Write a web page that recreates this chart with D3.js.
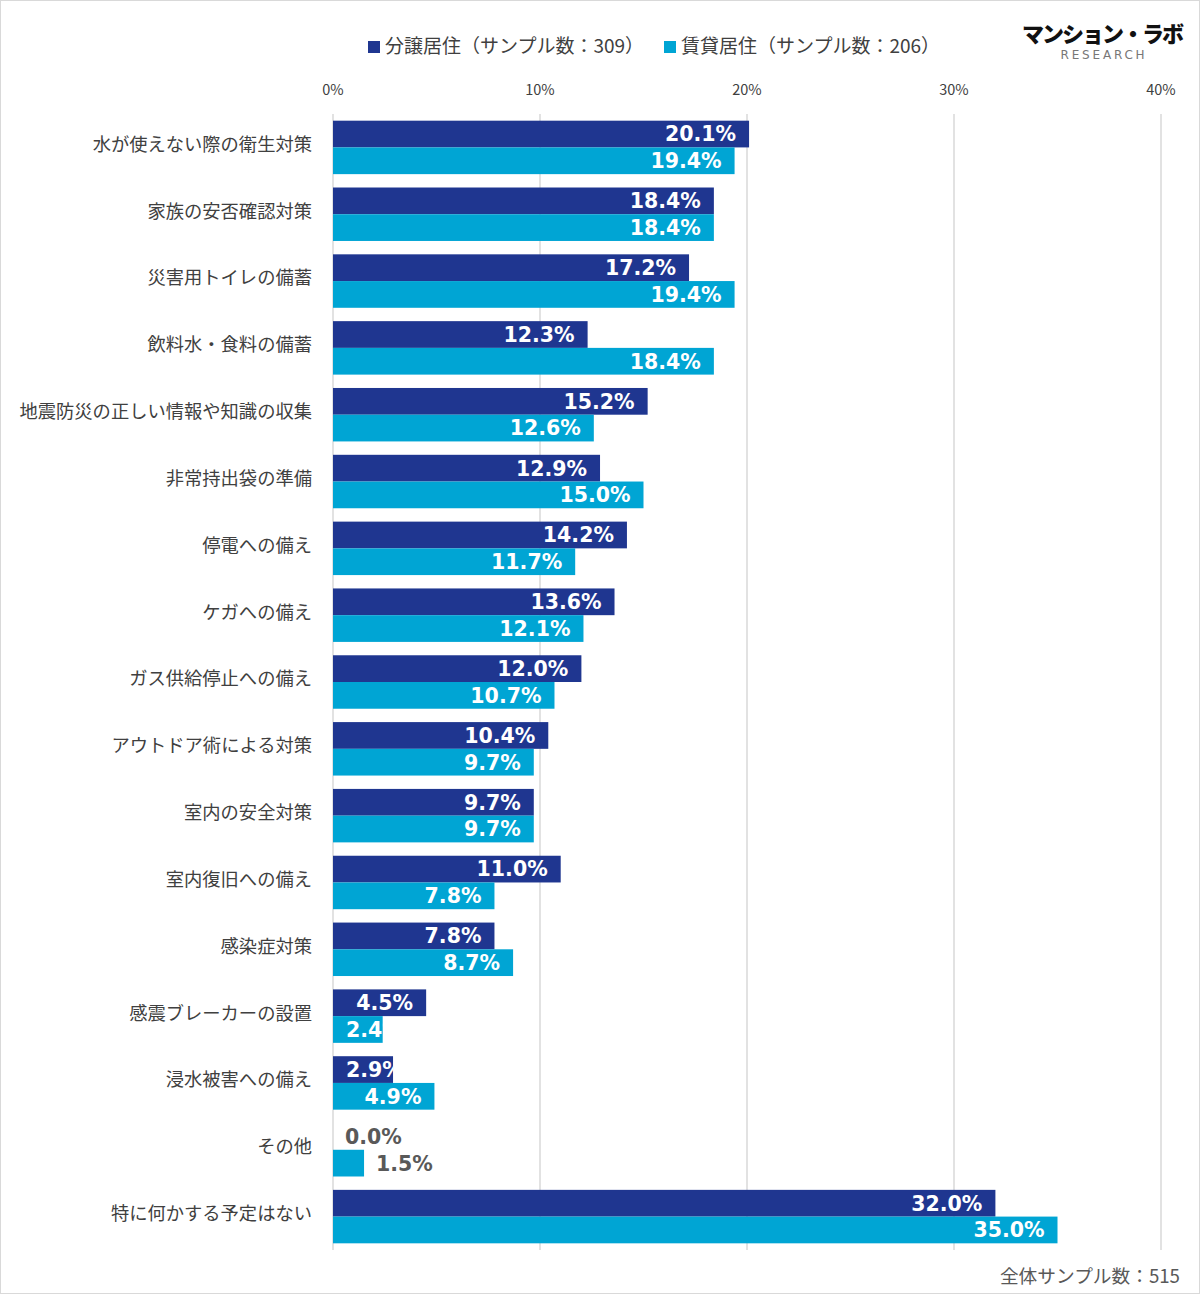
<!DOCTYPE html>
<html><head><meta charset="utf-8">
<script src="https://cdn.jsdelivr.net/npm/d3@7"></script>
<style>body{margin:0;background:#fff;}</style>
</head><body>
<svg id="chart" width="1200" height="1294"></svg>
<script>
const categories = ["水が使えない際の衛生対策","家族の安否確認対策","災害用トイレの備蓄","飲料水・食料の備蓄","地震防災の正しい情報や知識の収集","非常持出袋の準備","停電への備え","ケガへの備え","ガス供給停止への備え","アウトドア術による対策","室内の安全対策","室内復旧への備え","感染症対策","感震ブレーカーの設置","浸水被害への備え","その他","特に何かする予定はない"];
const ownedValues = [20.1,18.4,17.2,12.3,15.2,12.9,14.2,13.6,12.0,10.4,9.7,11.0,7.8,4.5,2.9,0.0,32.0];
const rentedValues = [19.4,18.4,19.4,18.4,12.6,15.0,11.7,12.1,10.7,9.7,9.7,7.8,8.7,2.4,4.9,1.5,35.0];
const seriesNames = ["分譲居住（サンプル数：309）","賃貸居住（サンプル数：206）"];
const tickValues = [0,10,20,30,40];
const footerText = "全体サンプル数：515";

const colors = ["#1f3690","#00a5d4"];
const svg = d3.select("#chart");
const W = 1200, H = 1294;
svg.append("rect").attr("x",0.5).attr("y",0.5).attr("width",W-1).attr("height",H-1).attr("fill","#fff").attr("stroke","#d9d9d9");

const x = d3.scaleLinear().domain([0,40]).range([333,1161]);
const y = d3.scaleBand().domain(categories).range([114,1250]).paddingInner(0.2).paddingOuter(0.1);
const sub = d3.scaleBand().domain([0,1]).range([0,y.bandwidth()]);

svg.append("g").selectAll("line").data(tickValues).join("line")
  .attr("x1",d=>x(d)).attr("x2",d=>x(d)).attr("y1",114).attr("y2",1250)
  .attr("stroke","#d9d9d9").attr("stroke-width",1.5);
svg.append("g").selectAll("text").data(tickValues).join("text")
  .attr("x",d=>x(d)).attr("y",95).attr("text-anchor","middle")
  .attr("font-family","'Noto Sans CJK JP','Noto Sans',sans-serif").attr("font-size",14.5).attr("fill","#404040")
  .text(d=>d+"%");

svg.append("g").selectAll("text").data(categories).join("text")
  .attr("x",312).attr("y",d=>y(d)+y.bandwidth()/2-3).attr("dy","0.35em").attr("text-anchor","end")
  .attr("font-family","'Noto Sans CJK JP',sans-serif").attr("font-size",18.3).attr("fill","#404040")
  .text(d=>d);

const rows = [];
categories.forEach((c,i)=>{
  rows.push({c, s:0, v:ownedValues[i]});
  rows.push({c, s:1, v:rentedValues[i]});
});

const defs = svg.append("defs");
const g = svg.append("g");
rows.forEach((r,i)=>{
  const by = y(r.c)+sub(r.s);
  const bh = sub.bandwidth();
  const bx = x(0), bw = x(r.v)-x(0);
  if (bw>0) g.append("rect").attr("x",bx).attr("y",by).attr("width",bw).attr("height",bh).attr("fill",colors[r.s]);
  const label = r.v.toFixed(1)+"%";
  const t = g.append("text").attr("y",by+bh/2).attr("dy","0.36em")
    .attr("font-family","'DejaVu Sans',Verdana,sans-serif").attr("font-weight","bold").attr("font-size",20.5)
    .text(label);
  if (r.v < 2) {
    t.attr("x",x(r.v)+12).attr("fill","#595959");
  } else {
    const tw = t.node().getComputedTextLength();
    const tx = Math.max(x(r.v)-13-tw, x(0)+13);
    t.attr("x",tx).attr("fill","#fff");
    const id = "clip"+i;
    defs.append("clipPath").attr("id",id).append("rect").attr("x",bx).attr("y",by).attr("width",bw).attr("height",bh);
    t.attr("clip-path",`url(#${id})`);
  }
});

const leg = svg.append("g");
const legX = [368,664];
seriesNames.forEach((n,i)=>{
  leg.append("rect").attr("x",legX[i]).attr("y",41).attr("width",12).attr("height",12).attr("fill",colors[i]);
  leg.append("text").attr("x",legX[i]+17).attr("y",46).attr("dy","0.35em")
    .attr("font-family","'Noto Sans CJK JP',sans-serif").attr("font-size",19).attr("fill","#404040").text(n);
});

svg.append("text").attr("x",1102).attr("y",42).attr("text-anchor","middle")
  .attr("font-family","'Noto Sans CJK JP',sans-serif").attr("font-weight","900").attr("font-size",22)
  .attr("fill","#111").attr("letter-spacing",-2).text("マンション・ラボ");
svg.append("text").attr("x",1104).attr("y",59).attr("text-anchor","middle")
  .attr("font-family","'DejaVu Sans',sans-serif").attr("font-size",12).attr("letter-spacing",2.8)
  .attr("fill","#777").text("RESEARCH");

svg.append("text").attr("x",1180).attr("y",1276).attr("dy","0.35em").attr("text-anchor","end")
  .attr("font-family","'Noto Sans CJK JP',sans-serif").attr("font-size",18.7).attr("fill","#595959").text(footerText);
</script>
</body></html>
